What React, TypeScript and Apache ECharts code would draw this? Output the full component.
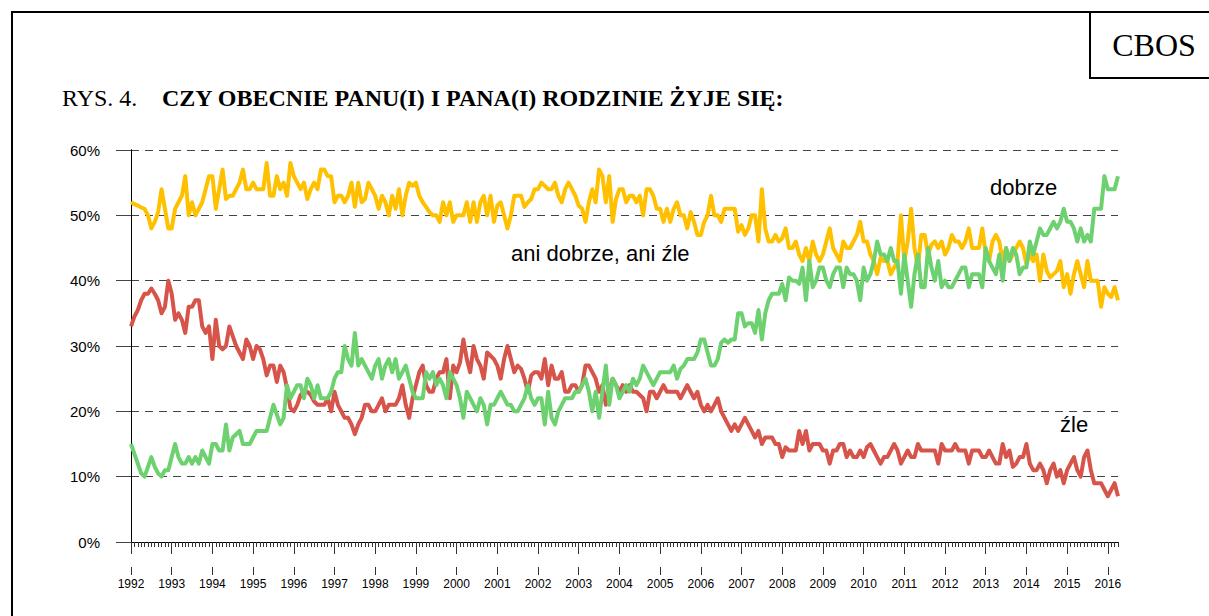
import React, { useEffect, useRef } from "react";
import * as echarts from "echarts";

// Monthly survey results, January 1992 – April 2016 (one row per year)
const START_YEAR = 1992;
const yearLabels = [
  "1992", "1993", "1994", "1995", "1996", "1997", "1998", "1999", "2000", "2001", "2002", "2003", "2004",
  "2005", "2006", "2007", "2008", "2009", "2010", "2011", "2012", "2013", "2014", "2015", "2016",
];
const yAxisTicks = [0, 10, 20, 30, 40, 50, 60];

const aniDobrzeAniZle = [
  52, 51.7, 51.5, 51.2, 51, 50, 48, 49, 50.5, 54, 51, 48,
  48, 51, 52, 53, 56, 50, 52, 50, 51, 52, 54, 56,
  56, 51, 54, 57, 52.5, 53, 53, 54, 55, 57, 54, 54,
  55, 54, 54, 54, 58, 53, 53, 56, 54, 55, 53, 58,
  56, 55, 54, 55, 52.5, 54, 55, 54, 57, 57, 56, 56,
  52, 53, 53, 52, 53, 55, 51.3, 55, 52, 52.5, 55, 54,
  53, 51, 53, 52, 50, 53, 51, 54, 50, 53, 55, 54.5,
  55, 53, 52, 51.3, 50.5, 50, 50, 49, 52, 50, 52, 49,
  50, 50, 50, 52, 49, 52, 49, 52, 53, 50, 53, 49,
  51.5, 52, 50, 48, 50, 53, 53, 53, 51.3, 52, 52.5, 54,
  54, 55, 54.5, 54, 54, 55, 53, 52, 54, 55, 54, 53,
  51.5, 51, 49, 52, 54, 52, 57, 56, 52, 56, 49, 52.5,
  54, 54, 52, 53, 53, 52, 53, 50, 54, 54, 53, 51,
  51, 49, 51, 49, 51, 52, 50, 50, 48, 50.5, 49, 47,
  47, 49, 50, 53, 50, 50, 49, 51, 51, 51, 51, 47.5,
  48.5, 47, 48, 50, 50, 46, 54, 48, 46, 46, 47, 46,
  46.5, 48, 45, 45, 46, 44, 43, 45, 43, 46, 44, 43,
  44, 46, 48, 45, 44, 43, 46, 45, 45, 46, 47, 49,
  46, 46, 44, 43, 41, 43.5, 43, 43, 41, 42, 43, 50,
  43, 46, 51, 45, 42, 47, 47, 44, 45.5, 46, 45, 46,
  44, 45, 47, 46, 46, 45, 46, 48, 45, 45, 45, 48,
  44, 43, 46, 47, 46, 43, 45, 43, 44, 45, 46, 45,
  42.5, 44, 43, 44, 40, 44, 41.5, 40.5, 41, 41.5, 43, 39,
  41, 38, 41, 43, 41, 39, 43, 40, 40, 40, 36, 39,
  38, 37.5, 39, 37,
];

const zle = [
  33, 34.5, 35.5, 37, 38, 38, 38.8, 38, 37, 35, 36, 40,
  38, 34, 35, 34, 32, 36, 36, 37, 37, 33, 32, 33,
  28, 34, 30, 29.5, 30, 33, 31.5, 30, 29, 28, 31, 30,
  28, 30, 29.5, 28, 25.5, 27, 27, 24.5, 27, 26, 23.5, 20.5,
  20, 21, 22.5, 23, 23, 22.5, 21.5, 21, 21, 21, 22, 20,
  23, 21, 20, 19, 19, 18, 16.5, 18, 19, 21, 21, 20,
  20, 21, 22, 20, 21, 21, 21, 22, 24, 21, 19, 22,
  24, 26, 27, 24, 23, 23, 25, 26, 26, 28, 22, 27,
  26, 27.5, 31, 28, 26, 30, 28, 27, 25, 29, 28.5, 28,
  27, 25, 28, 30, 28, 26, 27, 26.5, 25, 23, 25.5, 26,
  26, 25, 28, 24, 27, 25, 25, 26, 23, 23, 24, 24,
  23, 24, 27, 27, 26, 25, 23, 24, 21, 23, 25, 24,
  23, 24, 23, 24, 23, 23, 22.5, 22, 20, 23, 23, 22,
  23, 24, 23, 23, 23, 23, 22, 23, 24, 23, 22, 23,
  21, 20, 21, 20, 21, 22, 20, 19, 18, 17, 18, 17,
  18, 19, 18, 17, 16, 17, 15, 16, 16, 16, 15, 15,
  13, 14.5, 14, 14, 14, 17, 15, 17, 14, 15, 15, 15,
  14, 14, 12, 14, 14, 15, 15, 13, 14, 13, 13, 14,
  13, 14.5, 15, 14, 13, 12, 13, 13, 14, 15, 14, 12,
  13, 14, 13, 13, 15, 14, 14, 14, 14, 14, 12, 15,
  14, 14, 14, 15, 14, 14, 14, 12, 14, 14, 14, 13,
  13, 14, 13, 12, 12, 15, 13, 14, 11.5, 12, 13, 13,
  15, 12, 11, 11, 12, 11, 9, 11, 12, 10, 11, 9,
  11, 12, 13, 11, 10, 13, 14, 11, 9, 9, 9, 8,
  7, 8, 9, 7,
];

const dobrze = [
  15, 13.5, 12, 10.5, 10, 11.5, 13, 11.5, 10.5, 10, 11, 11,
  13, 15, 13, 12, 12, 13, 12, 13, 12, 14, 13, 12,
  15, 15, 14, 14, 18, 14, 16, 16.5, 17, 15, 15, 15,
  16, 17, 17, 17, 17, 19, 21, 19.5, 18, 19, 24, 22,
  23, 24, 24, 22, 25, 24, 22, 24, 22, 22, 22, 23,
  25, 26, 26, 30, 28, 27, 32, 27, 28, 27, 26, 25,
  27, 28, 25, 27, 28, 26, 28, 25, 26, 27, 25, 23,
  22, 22, 22, 26, 25, 26, 24, 25, 24, 22, 26, 25,
  24, 22, 19, 23, 22, 21, 20, 22, 21, 18, 21, 21,
  22, 23, 22, 21, 21, 20, 20, 21, 22, 24, 22, 21,
  22, 22, 18, 23, 19, 18, 20, 21, 22, 22, 22, 23,
  23, 24, 25, 23, 20, 23, 19, 23, 27, 21, 25, 24,
  22, 23, 24, 23, 25, 24, 25, 27, 26, 25, 24, 25,
  26, 26, 26, 26, 27, 25, 26.5, 27, 28, 28, 28, 29,
  31, 31, 29, 27, 27, 28, 30.5, 31, 30.5, 31, 31, 35,
  35, 33, 33.5, 33.5, 32, 35.5, 31, 35, 37, 38, 38, 38,
  39.5, 37, 40.5, 40, 40, 39.5, 42, 37, 43, 39, 40, 42,
  42, 40, 39, 41, 42, 42, 39, 42, 41, 41, 40, 37,
  42, 40, 41, 43, 46, 44, 44, 43, 45, 43, 43, 38,
  44, 40, 36, 41, 44, 39, 39, 45, 42, 40, 43, 39,
  40, 39, 39, 40, 41, 42, 42, 39, 41, 41, 41, 39,
  45, 43, 42, 41, 44, 40, 45, 43, 45, 44, 41, 42,
  42, 46, 44, 46, 48, 47, 47, 48, 49, 48, 49, 51,
  49, 49, 48, 46, 48, 46, 47, 46, 51, 51, 51, 56,
  54, 54, 54, 56,
];

const COLORS = { dobrze: "#6DD16F", ani: "#FFC000", zle: "#D6544A" };
const SANS = "Arial, 'Liberation Sans', sans-serif";
const SERIF = "'Times New Roman', 'Liberation Serif', serif";

export default function App() {
  const ref = useRef<HTMLDivElement>(null);

  useEffect(() => {
    if (!ref.current) return;
    const chart = echarts.init(ref.current, null, { renderer: "svg" });
    const lastIdx = dobrze.length - 1;
    const yearTicks = yearLabels.map((_, i) => i * 12);
    const toPairs = (arr: number[]) => arr.map((v, i) => [i, v]);

    const lineSeries = (name: string, data: number[], color: string, z: number) => ({
      name,
      type: "line",
      data: toPairs(data),
      xAxisIndex: 0,
      yAxisIndex: 0,
      showSymbol: false,
      symbol: "none",
      smooth: false,
      lineStyle: { color, width: 4, join: "round" },
      itemStyle: { color },
      z,
    });

    chart.setOption({
      animation: false,
      backgroundColor: "#ffffff",
      grid: { left: 131, right: 91, top: 150, bottom: 74, containLabel: false },
      xAxis: [
        {
          type: "value",
          min: 0,
          max: lastIdx,
          interval: 1,
          position: "bottom",
          axisLine: { show: true, onZero: false, lineStyle: { color: "#000", width: 1 } },
          axisTick: { show: true, length: 5, lineStyle: { color: "#333", width: 1 } },
          axisLabel: { show: false },
          splitLine: { show: false },
        },
        {
          type: "value",
          min: 0,
          max: lastIdx,
          position: "bottom",
          axisLine: { show: false, onZero: false },
          axisTick: { show: true, length: 12, customValues: yearTicks, lineStyle: { color: "#333", width: 1 } },
          axisLabel: { show: false },
          splitLine: { show: false },
        },
        {
          type: "value",
          min: 0,
          max: lastIdx,
          position: "bottom",
          offset: 25,
          axisLine: { show: false, onZero: false },
          axisTick: { show: true, length: 8, customValues: yearTicks, lineStyle: { color: "#333", width: 1 } },
          axisLabel: {
            show: true,
            customValues: yearTicks,
            formatter: (v: number) => String(START_YEAR + Math.round(v / 12)),
            fontSize: 12,
            color: "#000",
            fontFamily: SANS,
            margin: 11,
          },
          splitLine: { show: false },
        },
      ],
      yAxis: [
        {
          type: "value",
          min: yAxisTicks[0],
          max: yAxisTicks[yAxisTicks.length - 1],
          interval: 10,
          position: "left",
          axisLine: { show: true, lineStyle: { color: "#000", width: 1 } },
          axisTick: { show: true, length: 15, lineStyle: { color: "#444", width: 1 } },
          axisLabel: { formatter: "{value}%", fontSize: 15, color: "#000", fontFamily: SANS, margin: 31 },
          splitLine: { show: true, lineStyle: { color: "#444", width: 1, type: [8, 6] } },
        },
        {
          type: "value",
          min: yAxisTicks[0],
          max: yAxisTicks[yAxisTicks.length - 1],
          interval: 10,
          position: "right",
          axisLine: { show: true, lineStyle: { color: "#000", width: 1 } },
          axisTick: { show: false },
          axisLabel: { show: false },
          splitLine: { show: false },
        },
      ],
      series: [
        lineSeries("źle", zle, COLORS.zle, 2),
        lineSeries("ani dobrze, ani źle", aniDobrzeAniZle, COLORS.ani, 3),
        lineSeries("dobrze", dobrze, COLORS.dobrze, 4),
      ],
      graphic: [
        {
          type: "rect",
          silent: true,
          shape: { x: 12, y: 12, width: 1400, height: 900 },
          style: { fill: "none", stroke: "#000", lineWidth: 2 },
        },
        {
          type: "rect",
          silent: true,
          shape: { x: 1090, y: 12, width: 200, height: 66 },
          style: { fill: "none", stroke: "#000", lineWidth: 2 },
        },
        {
          type: "text",
          x: 1154,
          y: 45,
          style: { text: "CBOS", fontSize: 32, fontFamily: SERIF, fill: "#000", align: "center", verticalAlign: "middle" },
        },
        {
          type: "text",
          x: 62,
          y: 98,
          style: { text: "RYS. 4.", fontSize: 24, fontFamily: SERIF, fill: "#000", align: "left", verticalAlign: "middle" },
        },
        {
          type: "text",
          x: 162,
          y: 98,
          style: {
            text: "CZY OBECNIE PANU(I) I PANA(I) RODZINIE ŻYJE SIĘ:",
            fontSize: 24,
            fontWeight: "bold",
            fontFamily: SERIF,
            fill: "#000",
            align: "left",
            verticalAlign: "middle",
          },
        },
        {
          type: "text",
          x: 511,
          y: 253,
          style: { text: "ani dobrze, ani źle", fontSize: 22, fontFamily: SANS, fill: "#000", align: "left", verticalAlign: "middle" },
        },
        {
          type: "text",
          x: 990,
          y: 187,
          style: { text: "dobrze", fontSize: 22, fontFamily: SANS, fill: "#000", align: "left", verticalAlign: "middle" },
        },
        {
          type: "text",
          x: 1060,
          y: 424,
          style: { text: "źle", fontSize: 22, fontFamily: SANS, fill: "#000", align: "left", verticalAlign: "middle" },
        },
      ],
    });

    return () => chart.dispose();
  }, []);

  return (
    <div
      ref={ref}
      style={{ position: "fixed", left: 0, top: 0, width: 1209, height: 616, background: "#fff" }}
    />
  );
}
